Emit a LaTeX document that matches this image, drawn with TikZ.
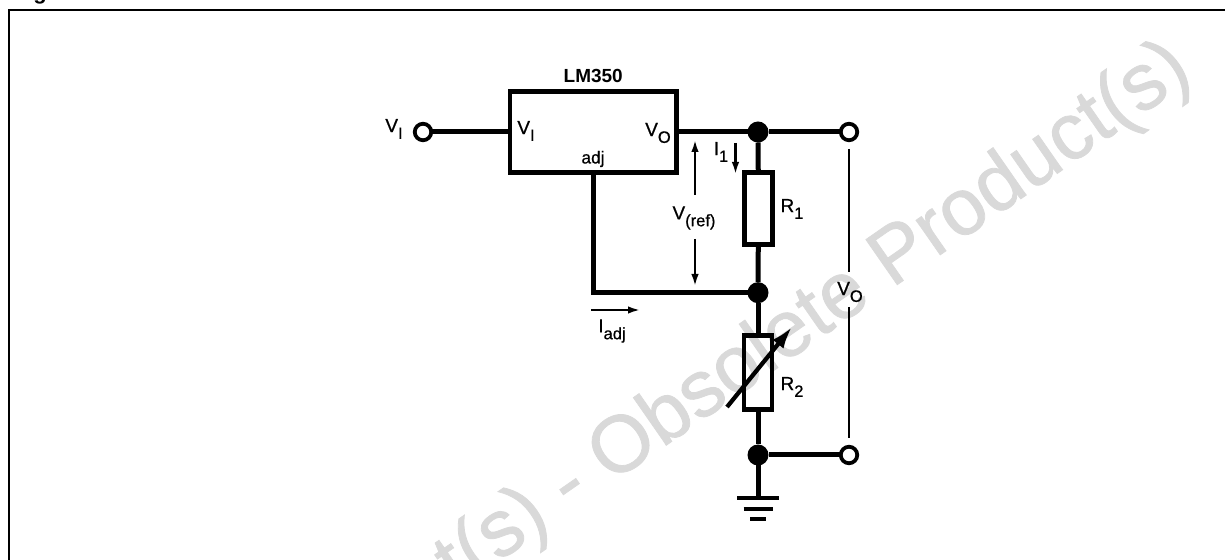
\documentclass[tikz,border=0pt]{standalone}
\usepackage{fontspec}
\setmainfont{Liberation Sans}
\newfontfamily\labelfont[FakeBold=.7]{Liberation Sans}
\newfontfamily\markfont[FakeBold=1]{Liberation Sans}
\usepackage{tikz}
\usetikzlibrary{calc,arrows.meta}

\newcommand{\sublabel}[2]{#1\raisebox{-.36em}{\fontsize{9.4}{9.4}\selectfont #2}}

\begin{document}
\begin{tikzpicture}[
    wire/.style={line width=.1cm},
    sense/.style={line width=.042cm, -{Latex[length=.24cm,width=.15cm]}},
    block/.style={draw, line width=.095cm, rectangle, outer sep=0, inner sep=0},
    term/.style={draw, fill=white, line width=.075cm, circle, minimum size=.33cm, inner sep=0, outer sep=0},
    junct/.style={fill=black, circle, minimum size=.42cm, inner sep=0, outer sep=0},
    lbl/.style={inner sep=0, font=\labelfont\fontsize{10.8}{10.8}\selectfont},
    gndbar/.style={line width=.08cm}]
        \useasboundingbox (0,0) rectangle (24.5,11.2);
        \clip (0,0) rectangle (24.5,11.2);

        \node[rotate=34.8, text=black!15, inner sep=0, font=\markfont\fontsize{45.5}{45.5}\selectfont] (mark) at (11.4,1.46) {Obsolete Product(s) - Obsolete Product(s)};
        \node[anchor=base west, inner sep=0, font=\bfseries\fontsize{12.5}{12.5}\selectfont] (fig) at (.27,11.21) {Figure};

        \coordinate (fa) at (.18,0);
        \coordinate (fb) at (.18,11);
        \coordinate (fc) at (24.5,11);
        \draw[line width=.05cm] (fa) -- (fb) -- (fc);

        \node[block, minimum width=3.33cm, minimum height=1.61cm] (reg) at (11.865,8.56) {};
        \node[block, minimum width=.56cm, minimum height=1.44cm] (r1) at (15.17,7.03) {};
        \node[block, minimum width=.56cm, minimum height=1.48cm] (r2) at (15.16,3.754) {};

        \node[term] (tin) at (8.46,8.56) {};
        \node[term] (tout) at (16.98,8.56) {};
        \node[term] (tgnd) at (16.98,2.1) {};
        \node[junct] (j1) at (15.16,8.56) {};
        \node[junct] (j2) at (15.16,5.346) {};
        \node[junct] (j3) at (15.16,2.1) {};
        \coordinate (gnd) at (15.16,1.24);

        \draw[wire] (tin) -- (reg);
        \draw[wire] (reg) -- (j1);
        \draw[wire] (j1) -- (tout);
        \draw[wire] (j1) -- (r1);
        \draw[wire] (r1) -- (j2);
        \draw[wire] (j2) -- (r2);
        \draw[wire] (r2) -- (j3);
        \draw[wire] (j3) -- (tgnd);
        \draw[wire] (j3) -- (gnd);
        \draw[wire] (reg.south) |- (j2);

        \draw[gndbar] ($(gnd)+(-.42,0)$) -- ($(gnd)+(.42,0)$);
        \draw[gndbar] ($(gnd)+(-.29,-.22)$) -- ($(gnd)+(.29,-.22)$);
        \draw[gndbar] ($(gnd)+(-.16,-.42)$) -- ($(gnd)+(.16,-.42)$);

        \coordinate (va) at (14.54,3.06);
        \coordinate (vb) at (15.84,4.66);
        \draw[line width=.085cm, -{Latex[length=.44cm,width=.28cm]}] (va) -- (vb);

        \coordinate (oa) at (16.98,8.22);
        \coordinate (ob) at (16.98,5.76);
        \coordinate (oc) at (16.98,5.06);
        \coordinate (od) at (16.98,2.44);
        \draw[line width=.04cm] (oa) -- (ob);
        \draw[line width=.04cm] (oc) -- (od);

        \coordinate (ra) at (13.9,7.3);
        \coordinate (rb) at (13.9,8.4);
        \coordinate (rc) at (13.9,6.42);
        \coordinate (rd) at (13.9,5.48);
        \draw[sense] (ra) -- (rb);
        \draw[sense] (rc) -- (rd);

        \coordinate (ia) at (14.71,8.34);
        \coordinate (ib) at (14.71,7.72);
        \draw[sense] (ia) -- (ib);
        \coordinate (ic) at (11.82,5.0);
        \coordinate (id) at (12.8,5.0);
        \draw[sense] (ic) -- (id);

        \node[lbl, font=\bfseries\fontsize{10.8}{10.8}\selectfont] (name) at (11.865,9.68) {LM350};
        \node[lbl] (vin) at (7.88,8.62) {\sublabel{V}{I}};
        \node[lbl] (vi) at (10.52,8.58) {\sublabel{V}{I}};
        \node[lbl] (vo) at (13.16,8.54) {\sublabel{V}{O}};
        \node[lbl, font=\labelfont\fontsize{9.8}{9.8}\selectfont] (adj) at (11.86,8.02) {adj};
        \node[lbl] (i1) at (14.42,8.16) {\sublabel{I}{1}};
        \node[lbl] (lr1) at (15.84,7.02) {\sublabel{R}{1}};
        \node[lbl] (lr2) at (15.84,3.46) {\sublabel{R}{2}};
        \node[lbl] (vref) at (13.88,6.84) {\sublabel{V}{(ref)}};
        \node[lbl] (iadj) at (12.24,4.58) {\sublabel{I}{adj}};
        \node[lbl] (vout) at (17.0,5.36) {\sublabel{V}{O}};
      \end{tikzpicture}
\end{document}
